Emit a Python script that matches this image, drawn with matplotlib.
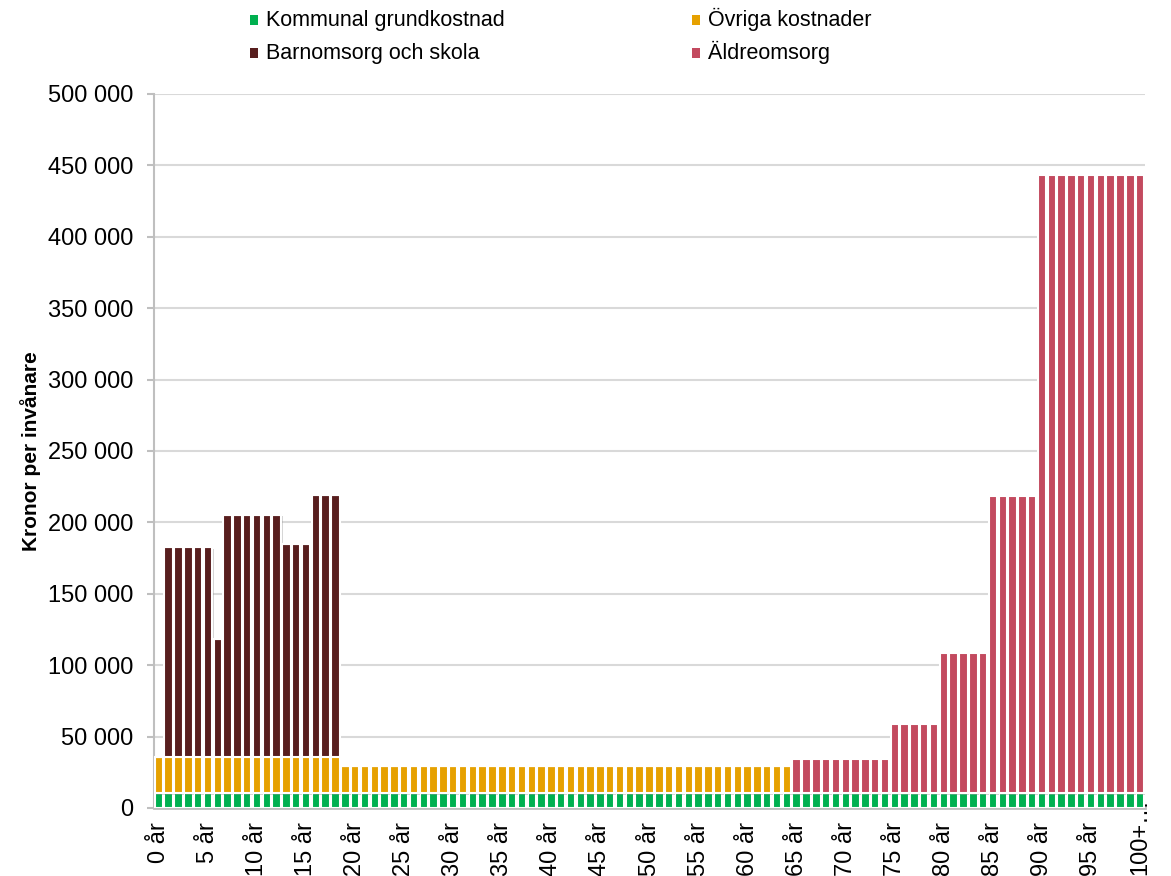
import matplotlib.pyplot as plt
import matplotlib.patheffects as pe
from matplotlib.patches import Rectangle
from matplotlib.transforms import ScaledTranslation
import numpy as np

plt.rcParams['font.family'] = ['Liberation Sans', 'DejaVu Sans']

# categories: 0 år .. 99 år, 100+
ages = [f"{a} år" for a in range(100)] + ["100+…"]

# values (kronor per invånare), in runs of equal values
grundkostnad = [10500] * 101
ovriga = [25500] * 19 + [19000] * 46 + [0] * 36
barnomsorg = [0] + [146500] * 5 + [82000] + [169500] * 6 + [149000] * 3 + [183500] * 3 + [0] * 82
aldreomsorg = [0] * 65 + [23800] * 10 + [48300] * 5 + [98000] * 5 + [208000] * 5 + [433000] * 11

series = [
    ("Kommunal grundkostnad", grundkostnad, "#00b050"),
    ("Övriga kostnader", ovriga, "#e6a100"),
    ("Barnomsorg och skola", barnomsorg, "#581e1e"),
    ("Äldreomsorg", aldreomsorg, "#c34a5f"),
]

W, H = 1171, 876
fig = plt.figure(figsize=(W / 100, H / 100), dpi=100)
ax = fig.add_axes([154 / W, 1 - 808 / H, (1145 - 154) / W, (808 - 94) / H])

x = np.arange(len(ages))
bottom = np.zeros(len(ages))
shadow = [pe.SimplePatchShadow(offset=(1.2, -1.2), shadow_rgbFace="#888888", alpha=0.35), pe.Normal()]
for name, vals, col in series:
    vals = np.array(vals, dtype=float)
    bars = ax.bar(x, vals, bottom=bottom, width=0.86, color=col, edgecolor="white",
                  linewidth=1.5, label=name, zorder=3)
    for b, v in zip(bars, vals):
        if v > 0:
            b.set_path_effects(shadow)
    bottom += vals

ax.set_xlim(-0.5, len(ages) - 0.5)
ax.set_ylim(0, 500000)
yt = np.arange(0, 500001, 50000)
ax.set_yticks(yt)
ax.set_yticklabels([f"{int(v):,}".replace(",", " ") for v in yt], fontsize=17)
ax.set_xticks(x[::5])
ax.set_xticklabels(ages[::5], rotation=90, fontsize=17)
ax.tick_params(axis="x", length=0, pad=10)
ax.tick_params(axis="y", length=5, color="#bfbfbf", width=1.5, pad=10)

# last label is longer, lift it so it fits like in the original
last = ax.get_xticklabels()[-1]
last.set_transform(last.get_transform() + ScaledTranslation(0, 24 / 100, fig.dpi_scale_trans))

ax.grid(axis="y", color="#d9d9d9", linewidth=1.5, zorder=0)
for s in ["top", "right"]:
    ax.spines[s].set_visible(False)
ax.spines["left"].set_color("#bfbfbf")
ax.spines["left"].set_linewidth(1.5)
ax.spines["bottom"].set_color("#bfbfbf")
ax.spines["bottom"].set_linewidth(2)

ax.set_ylabel("Kronor per invånare", fontsize=15, fontweight="bold", labelpad=5)

# legend drawn by hand: (marker left x, text x, baseline y) in pixels
legend_pos = [(250, 266, 26), (692, 708, 26), (250, 266, 59), (692, 708, 59)]
for (name, vals, col), (mx, tx, by) in zip(series, legend_pos):
    fig.add_artist(Rectangle((mx / W, 1 - (by - 1) / H), 8 / W, 10 / H,
                             transform=fig.transFigure, color=col, lw=0))
    fig.text(tx / W, 1 - by / H, name, fontsize=15.5, va="baseline", ha="left")

fig.savefig("out.png", dpi=100)
